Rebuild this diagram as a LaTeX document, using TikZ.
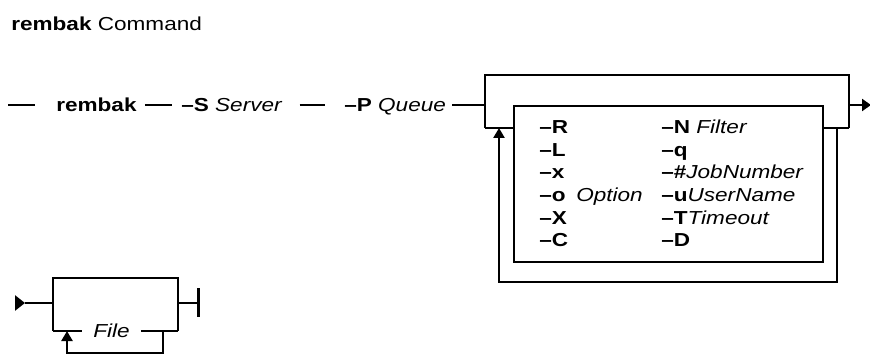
\documentclass[tikz,border=0pt]{standalone}
\usepackage{fontspec}
\setmainfont{Liberation Sans}[FakeStretch=1.2]
\usetikzlibrary{arrows.meta}
\begin{document}
\begin{tikzpicture}[x=1pt,y=-1pt, line width=2.6pt, line join=miter,
  lbl/.style={inner sep=0pt, text height=13pt, text depth=0pt, anchor=west, font=\fontsize{18.8}{22}\selectfont},
  uptip/.style={-{Triangle[length=10pt,width=11pt]}}]
\useasboundingbox (0,0) rectangle (870,355);
% title
\node[lbl] (title) at (10,24) {\textbf{rembak} Command};
% main line
\coordinate (m0) at (8,105);
\node[lbl] (cmd) at (55,105) {\textbf{rembak}};
\node[lbl] (S) at (180,105) {\textbf{–S} \textit{Server}};
\node[lbl] (P) at (343,105) {\textbf{–P} \textit{Queue}};
\coordinate (oL) at (485,105);
\draw[shorten >=20pt] (m0) -- (cmd.west);
\draw[shorten <=7pt, shorten >=8pt] (cmd.east) -- (S.west);
\draw[shorten <=16pt, shorten >=18pt] (S.east) -- (P.west);
\draw[shorten <=5pt] (P.east) -- (oL);
% outer bypass loop
\coordinate (oTL) at (485,75);
\coordinate (oTR) at (849,75);
\coordinate (oR) at (849,105);
\coordinate (oBL) at (485,128);
\coordinate (oBR) at (849,128);
\coordinate (end) at (871,105);
\draw (oBL) -- (oTL) -- (oTR) -- (oBR);
\draw[-{Triangle[length=9pt,width=12pt]}] (oR) -- (end);
% inner box
\coordinate (bTL) at (514,106);
\coordinate (bBR) at (823,262);
\coordinate (bL) at (514,128);
\coordinate (bR) at (823,128);
\draw (bTL) rectangle (bBR);
\draw (oBL) -- (bL);
\draw (bR) -- (oBR);
% repeat loop
\coordinate (rLt) at (499,128);
\coordinate (rLb) at (499,282);
\coordinate (rRb) at (837,282);
\coordinate (rRt) at (837,128);
\draw[uptip] (rRt) -- (rRb) -- (rLb) -- (rLt);
% box contents
\node[lbl] (oR1) at (538,127) {\textbf{–R}};
\node[lbl] (oL1) at (538,149.7) {\textbf{–L}};
\node[lbl] (ox) at (538,172.4) {\textbf{–x}};
\node[lbl] (oo) at (538,195.1) {\textbf{–o}};
\node[lbl] (oX) at (538,217.8) {\textbf{–X}};
\node[lbl] (oC) at (538,240.5) {\textbf{–C}};
\node[lbl] (opt) at (575,195.1) {\textit{Option}};
\node[lbl] (oN) at (660,127) {\textbf{–N} \textit{Filter}};
\node[lbl] (oq) at (660,149.7) {\textbf{–q}};
\node[lbl] (oh) at (660,172.4) {\textbf{–\#}\textit{JobNumber}};
\node[lbl] (ou) at (660,195.1) {\textbf{–u}\textit{UserName}};
\node[lbl] (oT) at (660,217.8) {\textbf{–T}\textit{Timeout}};
\node[lbl] (oD) at (660,240.5) {\textbf{–D}};
% File diagram
\coordinate (f0) at (15,303);
\coordinate (f1) at (25,303);
\coordinate (fL) at (53,303);
\coordinate (fTL) at (53,278);
\coordinate (fTR) at (178,278);
\coordinate (fBL) at (53,331);
\coordinate (fBR) at (178,331);
\coordinate (fR) at (178,303);
\coordinate (fE) at (200,303);
\draw[-{Triangle[length=10pt,width=15pt]}] (f0) -- (f1);
\draw (f1) -- (fL);
\draw (fBL) -- (fTL) -- (fTR) -- (fBR);
\node[lbl, anchor=center] (file) at (111.5,331) {\textit{File}};
\draw[shorten >=10pt] (fBL) -- (file.west);
\draw[shorten <=10pt] (file.east) -- (fBR);
\draw[-{Bar[width=29pt]}] (fR) -- (fE);
\coordinate (frLt) at (67,331);
\coordinate (frLb) at (67,353);
\coordinate (frRb) at (163,353);
\coordinate (frRt) at (163,331);
\draw[uptip] (frRt) -- (frRb) -- (frLb) -- (frLt);
\end{tikzpicture}
\end{document}
